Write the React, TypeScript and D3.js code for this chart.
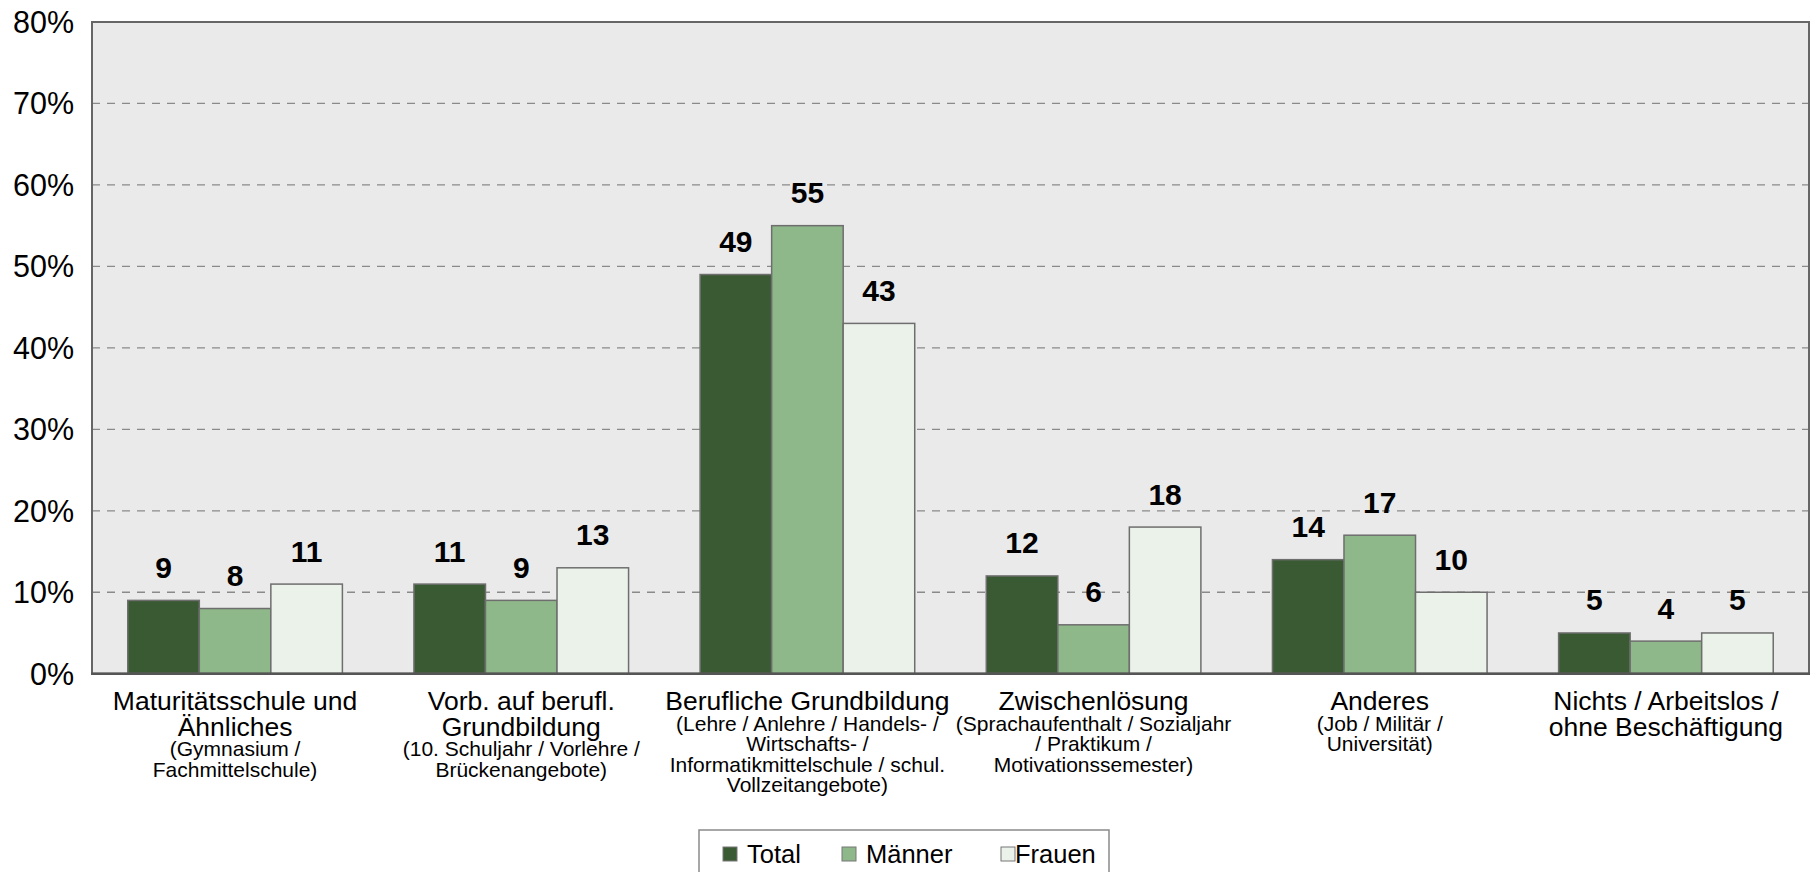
import React from "react";
import * as d3 from "d3";

const categories = [
  "Maturitätsschule",
  "Vorb. berufl.",
  "Berufliche Grundbildung",
  "Zwischenlösung",
  "Anderes",
  "Nichts",
];
const mainLabels: string[][] = [
  ["Maturitätsschule und", "Ähnliches"],
  ["Vorb. auf berufl.", "Grundbildung"],
  ["Berufliche Grundbildung"],
  ["Zwischenlösung"],
  ["Anderes"],
  ["Nichts / Arbeitslos /", "ohne Beschäftigung"],
];
const subLabels: string[][] = [
  ["(Gymnasium /", "Fachmittelschule)"],
  ["(10. Schuljahr / Vorlehre /", "Brückenangebote)"],
  ["(Lehre / Anlehre / Handels- /", "Wirtschafts- /", "Informatikmittelschule / schul.", "Vollzeitangebote)"],
  ["(Sprachaufenthalt / Sozialjahr", "/ Praktikum /", "Motivationssemester)"],
  ["(Job / Militär /", "Universität)"],
  [],
];
const seriesNames = ["Total", "Männer", "Frauen"];
const totalValues = [9, 11, 49, 12, 14, 5];
const maennerValues = [8, 9, 55, 6, 17, 4];
const frauenValues = [11, 13, 43, 18, 10, 5];
const yTicks = [0, 10, 20, 30, 40, 50, 60, 70, 80];

const seriesValues = [totalValues, maennerValues, frauenValues];
const colors = ["#3a5a34", "#8fb88a", "#ebf2ea"];

const W = 1818;
const H = 872;
const left = 92;
const right = 1809;
const top = 22;
const bottom = 673.7;
const FONT = "'Liberation Sans', Arial, sans-serif";

export default function App() {
  const y = d3.scaleLinear().domain([0, 80]).range([bottom, top]);
  const x = d3.scaleBand<string>().domain(categories).range([left, right]).paddingInner(0).paddingOuter(0);
  const xs = d3
    .scaleBand<string>()
    .domain(seriesNames)
    .range([0, x.bandwidth()])
    .paddingInner(0)
    .paddingOuter(0.5);

  const legendItems = [
    { name: "Total", sq: 723, tx: 747 },
    { name: "Männer", sq: 842, tx: 866 },
    { name: "Frauen", sq: 1001, tx: 1015 },
  ];

  return (
    <svg
      width={W}
      height={H}
      style={{ position: "absolute", left: 0, top: 0, display: "block", background: "#fff" }}
      fontFamily={FONT}
    >
      <rect x={left} y={top} width={right - left} height={bottom - top} fill="#eaeaea" />
      {yTicks.slice(1, -1).map((t) => (
        <line
          key={t}
          x1={left}
          x2={right}
          y1={y(t)}
          y2={y(t)}
          stroke="#8a8a8a"
          strokeWidth={1.3}
          strokeDasharray="8,7"
        />
      ))}
      {yTicks.map((t) => (
        <text
          key={t}
          x={74}
          y={y(t)}
          textAnchor="end"
          dominantBaseline="central"
          fontSize={30.5}
          fill="#000"
        >
          {t}%
        </text>
      ))}
      {categories.map((c, ci) =>
        seriesNames.map((s, si) => {
          const v = seriesValues[si][ci];
          const bx = (x(c) as number) + (xs(s) as number);
          return (
            <g key={c + s}>
              <rect
                x={bx}
                y={y(v)}
                width={xs.bandwidth()}
                height={bottom - y(v)}
                fill={colors[si]}
                stroke="#6e6e6e"
                strokeWidth={1.5}
              />
              <text
                x={bx + xs.bandwidth() / 2}
                y={y(v) - 22.5}
                textAnchor="middle"
                fontSize={30}
                fontWeight="bold"
                fill="#000"
              >
                {v}
              </text>
            </g>
          );
        })
      )}
      <rect x={left} y={top} width={right - left} height={bottom - top} fill="none" stroke="#666" strokeWidth={2} />
      <line x1={left - 1} x2={right + 1} y1={bottom} y2={bottom} stroke="#555" strokeWidth={2.5} />
      {categories.map((c, ci) => {
        const cx = (x(c) as number) + x.bandwidth() / 2;
        const mains = mainLabels[ci];
        const subs = subLabels[ci];
        const lastMain = 710 + (mains.length - 1) * 25.5;
        return (
          <g key={c}>
            {mains.map((l, i) => (
              <text key={"m" + i} x={cx} y={710 + i * 25.5} textAnchor="middle" fontSize={26.5} fill="#000">
                {l}
              </text>
            ))}
            {subs.map((l, i) => (
              <text key={"s" + i} x={cx} y={lastMain + 20.5 + i * 20.5} textAnchor="middle" fontSize={21} fill="#000">
                {l}
              </text>
            ))}
          </g>
        );
      })}
      <rect x={699} y={830} width={410} height={60} fill="#fff" stroke="#8a8a8a" strokeWidth={1.5} />
      {legendItems.map((it, i) => (
        <g key={it.name}>
          <rect x={it.sq} y={847} width={14} height={14} fill={colors[i]} stroke="#777" strokeWidth={1} />
          <text x={it.tx} y={863} fontSize={25.5} fill="#000">
            {it.name}
          </text>
        </g>
      ))}
    </svg>
  );
}
